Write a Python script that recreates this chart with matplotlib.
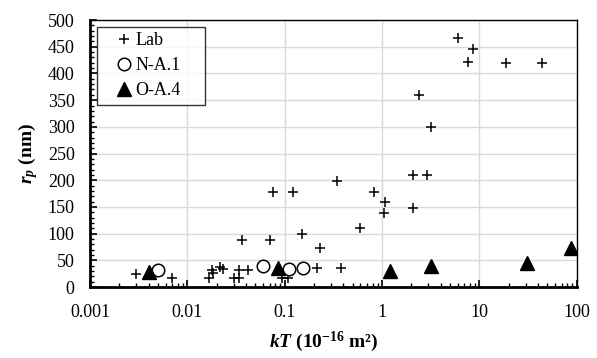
import matplotlib
matplotlib.use("Agg")
import matplotlib.pyplot as plt
from matplotlib.ticker import LogLocator, MultipleLocator, NullFormatter

plt.rcParams['font.family'] = ['Liberation Serif', 'DejaVu Serif']
plt.rcParams['mathtext.fontset'] = 'custom'
plt.rcParams['mathtext.rm'] = 'Liberation Serif'
plt.rcParams['mathtext.it'] = 'Liberation Serif:italic'
plt.rcParams['mathtext.bf'] = 'Liberation Serif:bold'
plt.rcParams['mathtext.bfit'] = 'Liberation Serif:italic:bold'

lab_kT = [0.003, 0.007, 0.0168, 0.018, 0.0185, 0.0217, 0.023, 0.0298, 0.034, 0.0343,
          0.042, 0.036, 0.071, 0.0757, 0.121, 0.094, 0.107, 0.150, 0.228, 0.215,
          0.38, 0.346, 0.595, 0.82, 1.07, 1.04, 2.09, 2.07, 2.93, 2.41,
          3.22, 6.07, 8.57, 7.62, 18.7, 44]
lab_rp = [25, 18, 18, 32, 26, 37, 34, 18, 18, 32,
          32, 88, 88, 178, 178, 18, 18, 99, 74, 36,
          36, 198, 110, 178, 159, 139, 148, 210, 210, 360,
          299, 467, 445, 422, 419, 419]

na_kT = [0.005, 0.06, 0.112, 0.154]
na_rp = [32, 39, 33, 35]

oa_kT = [0.004, 0.085, 1.21, 3.2, 30.5, 88]
oa_rp = [28, 36, 30, 40, 45, 74]

x_ticks = [0.001, 0.01, 0.1, 1, 10, 100]
x_tick_labels = ['0.001', '0.01', '0.1', '1', '10', '100']

fig = plt.figure(figsize=(5.97, 3.58), dpi=100)
ax = fig.add_axes([0.1508, 0.198, 0.8152, 0.746])

ax.plot(lab_kT, lab_rp, linestyle='none', marker='+', color='black',
        markersize=7.5, markeredgewidth=1.1, label='Lab', zorder=3)
ax.plot(na_kT, na_rp, linestyle='none', marker='o', markerfacecolor='white',
        markeredgecolor='black', markersize=9, markeredgewidth=1.1, label='N-A.1', zorder=4)
ax.plot(oa_kT, oa_rp, linestyle='none', marker='^', color='black',
        markersize=10, label='O-A.4', zorder=5)

ax.set_xscale('log')
ax.set_xlim(0.001, 100)
ax.set_ylim(0, 500)
ax.yaxis.set_major_locator(MultipleLocator(50))
ax.yaxis.set_minor_locator(MultipleLocator(10))
ax.set_xticks(x_ticks)
ax.set_xticklabels(x_tick_labels)
ax.xaxis.set_minor_locator(LogLocator(base=10, subs=range(2, 10), numticks=20))
ax.xaxis.set_minor_formatter(NullFormatter())

ax.grid(True, which='major', color='#d9d9d9', linewidth=1.0, zorder=0)
ax.set_axisbelow(True)

ax.tick_params(axis='both', which='major', direction='in', length=5, width=1.2,
               labelsize=13, pad=11)
ax.tick_params(axis='both', which='minor', direction='in', length=3, width=1.0)
ax.tick_params(axis='x', which='major', pad=12)
ax.tick_params(top=False, right=False, which='both')

for s in ['left', 'bottom']:
    ax.spines[s].set_linewidth(2.0)
for s in ['top', 'right']:
    ax.spines[s].set_linewidth(1.0)

ax.set_ylabel(r'$\mathbfit{r}_{\mathbfit{p}}$ (nm)', fontsize=14, fontweight='bold')
ax.yaxis.set_label_coords(-0.103, 0.5)
ax.set_xlabel(r'$\mathbfit{kT}$ (10$^{\mathbf{-16}}$ m²)', fontsize=14, fontweight='bold')
ax.xaxis.set_label_coords(0.479, -0.16)

leg = ax.legend(loc='upper left', bbox_to_anchor=(0.0144, 0.5, 0.222, 0.474),
                mode='expand', frameon=True, fancybox=False,
                edgecolor='black', fontsize=13, handletextpad=-0.59, handlelength=2.4,
                borderpad=0.3, labelspacing=0.44, borderaxespad=0.0)
leg.get_frame().set_linewidth(1.0)

fig.savefig('out.png', dpi=100)
